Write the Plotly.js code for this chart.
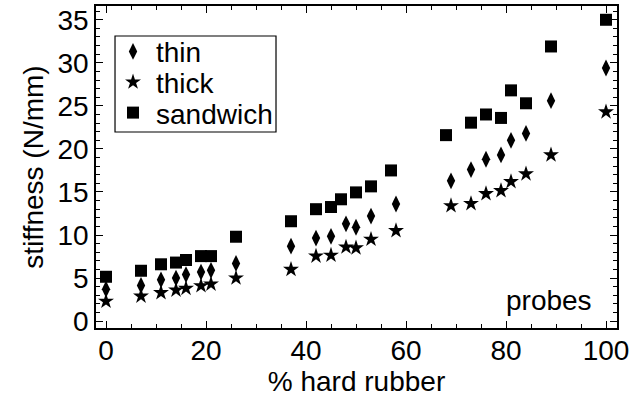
<!DOCTYPE html>
<html>
<head>
<meta charset="utf-8">
<script src="https://cdn.plot.ly/plotly-3.0.1.min.js"></script>
<style>html,body{margin:0;padding:0;background:#fff;}#chart{width:636px;height:398px;}</style>
</head>
<body>
<div id="chart"></div>
<script>
// thin & thick probes share x positions
var xThin     = [0, 7, 11, 14, 16, 19, 21, 26, 37, 42, 45, 48, 50, 53, 58, 69, 73, 76, 79, 81, 84, 89, 100];
var thinVals  = [3.7, 4.15, 4.8, 5.0, 5.4, 5.7, 5.9, 6.7, 8.7, 9.65, 9.85, 11.3, 10.9, 12.2, 13.6, 16.3, 17.6, 18.8, 19.3, 21.0, 21.8, 25.6, 29.4];
var thickVals = [2.3, 2.9, 3.3, 3.6, 3.8, 4.1, 4.3, 5.0, 6.0, 7.55, 7.65, 8.6, 8.5, 9.5, 10.5, 13.4, 13.65, 14.8, 15.15, 16.2, 17.1, 19.3, 24.3];
var xSandwich = [0, 7, 11, 14, 16, 19, 21, 26, 37, 42, 45, 47, 50, 53, 57, 68, 73, 76, 79, 81, 84, 89, 100];
var sandVals  = [5.15, 5.85, 6.6, 6.8, 7.1, 7.55, 7.55, 9.8, 11.6, 13.0, 13.25, 14.15, 14.95, 15.65, 17.5, 21.6, 23.05, 24.0, 23.6, 26.8, 25.3, 31.9, 35.0];
var seriesNames = ["thin", "thick", "sandwich"];

var font = "Liberation Sans, Arial, Helvetica, sans-serif";

var traces = [
  {x: xThin, y: thinVals, name: seriesNames[0], mode: "markers", type: "scatter", legend: "legend",
   marker: {symbol: "diamond-tall", size: 12, color: "#000"}},
  {x: xThin, y: thickVals, name: seriesNames[1], mode: "markers", type: "scatter", legend: "legend2",
   marker: {symbol: "star", size: 12, color: "#000"}},
  {x: xSandwich, y: sandVals, name: seriesNames[2], mode: "markers", type: "scatter", legend: "legend3",
   marker: {symbol: "square", size: 12, color: "#000"}}
];

var axisCommon = {
  showgrid: false, zeroline: false, showline: true, linecolor: "#000", linewidth: 1.8,
  mirror: "allticks", ticks: "inside", ticklen: 7, tickcolor: "#000", tickwidth: 1,
  tickfont: {family: font, size: 28, color: "#000"}
};

function leg(yc) {
  return {x: 0.0269, y: yc, xanchor: "left", yanchor: "middle", itemwidth: 36,
          bgcolor: "rgba(0,0,0,0)", borderwidth: 0,
          font: {family: font, size: 28, color: "#000"}};
}

var layout = {
  width: 636, height: 398,
  margin: {l: 96, r: 19, t: 6, b: 70},
  paper_bgcolor: "#fff", plot_bgcolor: "#fff",
  font: {family: font, color: "#000"},
  showlegend: true,
  legend: leg(0.858),
  legend2: leg(0.763),
  legend3: leg(0.668),
  xaxis: Object.assign({}, axisCommon, {
    range: [-2, 102.2], dtick: 20, tick0: 0, ticklabelstandoff: -3,
    minor: {dtick: 5, ticks: "inside", ticklen: 4, tickcolor: "#000"},
    title: {text: "% hard rubber", font: {family: font, size: 28, color: "#000"}, standoff: 3}
  }),
  yaxis: Object.assign({}, axisCommon, {
    range: [-0.8, 36.6], dtick: 5, tick0: 0,
    minor: {dtick: 1, ticks: "inside", ticklen: 4, tickcolor: "#000"},
    title: {text: "stiffness (N/mm)", font: {family: font, size: 28, color: "#000"}, standoff: 6}
  }),
  shapes: [{type: "rect", xref: "paper", yref: "paper",
            x0: 0.0365, x1: 0.3455, y0: 0.6087, y1: 0.9068,
            line: {color: "#000", width: 1.2}, fillcolor: "rgba(0,0,0,0)", layer: "above"}],
  annotations: [{
    text: "probes", xref: "paper", yref: "paper", x: 0.956, y: 0.085,
    xanchor: "right", yanchor: "middle", showarrow: false,
    font: {family: font, size: 28, color: "#000"}
  }]
};

Plotly.newPlot("chart", traces, layout, {displayModeBar: false, staticPlot: true});
</script>
</body>
</html>
